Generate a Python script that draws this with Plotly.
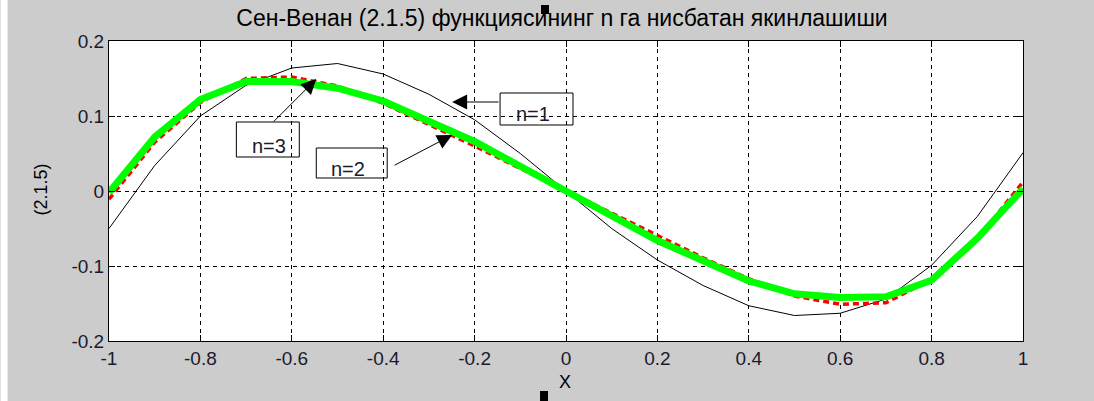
import plotly.graph_objects as go

# ---- data ----
x_vals = [-1.0, -0.9, -0.8, -0.7, -0.6, -0.5, -0.4, -0.3, -0.2, -0.1, 0.0,
          0.1, 0.2, 0.3, 0.4, 0.5, 0.6, 0.7, 0.8, 0.9, 1.0]
n1_vals = [-0.050, 0.034, 0.100, 0.141, 0.164, 0.170, 0.156, 0.129, 0.095, 0.050, 0.0,
           -0.050, -0.092, -0.126, -0.153, -0.166, -0.163, -0.144, -0.099, -0.034, 0.051]
n2_vals = [-0.011, 0.065, 0.118, 0.150, 0.152, 0.140, 0.117, 0.089, 0.060, 0.030, 0.0,
           -0.030, -0.060, -0.089, -0.117, -0.140, -0.151, -0.149, -0.118, -0.064, 0.012]
n3_vals = [-0.002, 0.072, 0.122, 0.146, 0.146, 0.137, 0.120, 0.093, 0.066, 0.033, 0.0,
           -0.033, -0.066, -0.093, -0.120, -0.137, -0.142, -0.141, -0.119, -0.063, 0.003]
x_ticks = [-1, -0.8, -0.6, -0.4, -0.2, 0, 0.2, 0.4, 0.6, 0.8, 1]
x_ticklabels = ["-1", "-0.8", "-0.6", "-0.4", "-0.2", "0", "0.2", "0.4", "0.6", "0.8", "1"]
y_ticks = [-0.2, -0.1, 0, 0.1, 0.2]
y_ticklabels = ["-0.2", "-0.1", "0", "0.1", "0.2"]
title_text = "Сен-Венан (2.1.5) функциясининг n га нисбатан якинлашиши"
x_label = "X"
y_label = "(2.1.5)"
labels = ["n=1", "n=2", "n=3"]

# ---- layout geometry (pixels) ----
W, H = 1094, 401
L, R, T, B = 108.5, 1023.5, 41, 341
PW, PH = R - L, B - T
FONT = "Liberation Sans, Arial, sans-serif"
GRAY = "#cccccc"
TXT = "#1a1a2e"

def px_x(p):  # pixel -> paper x
    return (p - L) / PW

def px_y(p):  # pixel -> paper y
    return (B - p) / PH

fig = go.Figure()
fig.add_trace(go.Scatter(x=x_vals, y=n1_vals, mode="lines", name=labels[0],
                         line=dict(color="black", width=1)))
fig.add_trace(go.Scatter(x=x_vals, y=n2_vals, mode="lines", name=labels[1],
                         line=dict(color="#ff0000", width=3.5, dash="6px,4px")))
fig.add_trace(go.Scatter(x=x_vals, y=n3_vals, mode="lines", name=labels[2],
                         line=dict(color="#00ff00", width=7)))

axis_common = dict(
    showline=True, linecolor="black", linewidth=1, mirror="ticks",
    ticks="inside", ticklen=6, tickcolor="black", tickwidth=1,
    showgrid=True, gridcolor="black", gridwidth=1, griddash="4px,4px",
    zeroline=False, tickfont=dict(family=FONT, size=19, color=TXT),
    tickmode="array",
)

fig.update_layout(
    width=W, height=H,
    margin=dict(l=L, r=W - R, t=T, b=H - B, pad=0),
    paper_bgcolor=GRAY, plot_bgcolor="white",
    showlegend=False,
    xaxis=dict(range=[-1, 1], tickvals=x_ticks, ticktext=x_ticklabels, **axis_common),
    yaxis=dict(range=[-0.2, 0.2], tickvals=y_ticks, ticktext=y_ticklabels, **axis_common),
    title=dict(text=title_text, x=px_x(562), xref="paper", xanchor="center",
               y=1 - 18 / H, yref="container", yanchor="middle",
               font=dict(family=FONT, size=23, color="black")),
)

annotations = []
# axis labels
annotations.append(dict(text=x_label, x=px_x(565), y=px_y(382), xref="paper", yref="paper",
                        xanchor="center", yanchor="middle",
                        showarrow=False, font=dict(family=FONT, size=18, color="black")))
annotations.append(dict(text=y_label, x=px_x(40), y=px_y(190), xref="paper", yref="paper",
                        xanchor="center", yanchor="middle",
                        textangle=-90, showarrow=False,
                        font=dict(family=FONT, size=18, color="black")))

# arrows: (tip_px, tail_px)
arrows = [((452, 102), (500, 102)),
          ((316, 79), (272, 123)),
          ((452, 135), (393, 166))]
for (tx, ty), (sx, sy) in arrows:
    annotations.append(dict(text="", x=px_x(tx), y=px_y(ty), xref="paper", yref="paper",
                            showarrow=True, ax=sx - tx, ay=sy - ty, axref="pixel", ayref="pixel",
                            arrowhead=2, arrowsize=3, arrowwidth=1, arrowcolor="black",
                            standoff=0, startstandoff=0))

# label boxes: (text, box x0, y0, x1, y1, text center x, text bottom y)
boxes = [(labels[0], 500, 93, 573, 125, 533, 127),
         (labels[2], 236, 122, 299, 157, 269, 159),
         (labels[1], 316, 148, 387, 178, 348, 182)]
shapes = [
    # white strip at left edge of the window capture
    dict(type="rect", xref="paper", yref="paper", x0=px_x(0), x1=px_x(7),
         y0=px_y(H), y1=px_y(0), fillcolor="white", line=dict(width=0), layer="below"),
    # selection-handle squares
    dict(type="rect", xref="paper", yref="paper", x0=px_x(541), x1=px_x(549),
         y0=px_y(14), y1=px_y(5), fillcolor="black", line=dict(width=0)),
    dict(type="rect", xref="paper", yref="paper", x0=px_x(540), x1=px_x(548),
         y0=px_y(401), y1=px_y(391), fillcolor="black", line=dict(width=0)),
]
for txt, x0, y0, x1, y1, tcx, tby in boxes:
    shapes.append(dict(type="rect", xref="paper", yref="paper",
                       x0=px_x(x0), x1=px_x(x1), y0=px_y(y1), y1=px_y(y0),
                       line=dict(color="black", width=1), fillcolor="rgba(0,0,0,0)"))
    annotations.append(dict(text=txt, x=px_x(tcx), y=px_y(tby), xref="paper", yref="paper",
                            xanchor="center", yanchor="bottom", showarrow=False,
                            font=dict(family=FONT, size=20, color=TXT)))

fig.update_layout(annotations=annotations, shapes=shapes)

fig.write_html("out.html", config={"displayModeBar": False},
               post_script="document.body.style.margin='0';")
